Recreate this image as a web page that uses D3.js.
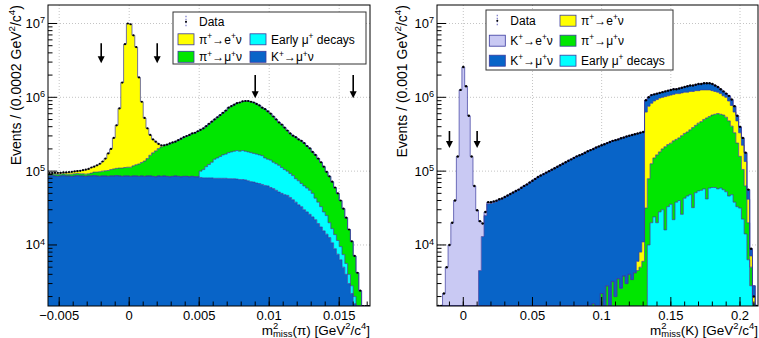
<!DOCTYPE html>
<html lang="en">
<head>
<meta charset="utf-8">
<title>missing mass squared</title>
<script src="https://d3js.org/d3.v7.min.js"></script>
<style>
body { margin: 0; background: #fff; }
svg { display: block; font-family: "Liberation Sans", Arial, sans-serif; }
</style>
</head>
<body>
<script>
// ---------- data : events per bin, in thousands ----------
// left : m2miss(pi), bins of 0.0002 starting at -0.0058
const leftLo = -0.0058, leftBin = 0.0002;
const leftKmu = [
  86,87,86,85,86,87,86,86,85,86, 87,86,86,85,86,86,87,86,85,86,
  86,85,86,86,87,86,85,86,86,85, 86,86,85,86,85,86,86,85,84,86,
  85,86,85,84,85,86,85,84,85,85, 84,85,84,84,
  82,81,81,81,81,80,80,80,80,80, 79,79,79,78,77,77,76,74,72,71,
  69,68,66,64,63,60,58,55,52,50, 48,47,44,41,38,35,33,30,28,26,
  24,22,19.5,17.5,15.5,14,12.6,10.7,8.9,7.5, 6.3,5.0,4.0,3.0,2.2,1.6,1.0,0.6,0.3,0.1,
  0];
const leftEarly = [
  0,0,0,0,0,0,0,0,0,0, 0,0,0,0,0,0,0,0,0,0, 0,0,0,0,0,0,0,0,0,0,
  0,0,0,0,0,0,0,0,0,0, 0,0,0,0,0,0,0,0,0,0, 0,0,0,0,
  18,24,34,42,51,65,71,78,86,90, 99,103,107,112,109,113,110,108,106,103,
  101,98,96,87,82,81,74,71,68,62, 57,53,49,46,41,39,35,33,31,29,
  26,21,18.5,15.5,12.5,11,7.4,5.9,4.9,4.0, 3.2,2.4,1.6,1.0,0.6,0.4,0.2,0.1,0,0,
  0];
const leftPimu = [
  5,5,5,5,5,5,5,5,6,6, 6,6,6,6,6,8,10,11,13,14,
  15,17,19,21,22,24,25,26,27,28, 32,36,40,45,52,62,78,92,104,116,
  128,137,143,151,159,165,177,189,202,213, 224,239,246,262,
  263,275,292,314,336,356,386,417,451,491, 546,577,608,642,665,691,705,709,693,677,
  643,610,562,541,501,462,418,375,337,315, 284,255,231,215,209,195,189,177,160,149,
  132,123,110,99,87,73,65,55,46,38.5, 30.5,23.6,17.8,12.2,8.4,5.1,3.0,1.7,1.0,0.6,
  0.2];
const leftPie = [
  3,3,3,4,4,4,5,5,6,7, 8,9,11,13,15,18,19,23,27,35,
  47,71,95,175,309,598,1474,5136,9887,9658, 6800,4664,1736,740,387,232,145,91,61,32,
  10,2,0.5,0,0,0,0,0,0,0, 0,0,0,0,0,0,0,0,0,0, 0,0,0,0,0,0,0,0,0,0,
  0,0,0,0,0,0,0,0,0,0, 0,0,0,0,0,0,0,0,0,0, 0,0,0,0,0,0,0,0,0,0,
  0,0,0,0,0,0,0,0,0,0, 0,0,0,0,0];
const leftData = [
  94,94,95,95,95,96,96,97,98,99, 100,101,103,105,107,112,115,120,126,135,
  148,174,200,282,417,708,1585,5248,10000,9772, 6918,4786,1862,871,525,380,309,269,251,234,
  224,224,229,237,245,251,263,275,288,299, 309,324,331,347,363,380,407,437,468,501,
  537,575,617,661,724,759,794,832,851,881, 891,891,871,851,813,776,724,692,646,603,
  550,501,457,427,389,355,324,302,288,269, 257,240,219,204,182,166,148,132,115,98,
  85,72,60,50,40,31,23.4,16.2,11.2,7.1, 4.2,2.4,1.3,0.6,0.2];

// right : m2miss(K), bins of 0.002 starting at -0.019
const rightLo = -0.019, rightBin = 0.002;
const rightKenu = [
  0.5,1.0,2.2,5,10,20,40,158,1260,2570, 1410,562,158,62.5,28,16.5,6.5,3,2,1.5,
  1.2,1.0,0.8,0.6,0.5,0.4,0.3,0.3,0.2,0.2, 0,0,0,0,0,0,0,0,0,0,
  0,0,0,0,0,0,0,0,0,0, 0,0,0,0,0,0,0,0,0,0, 0,0,0,0,0,0,0,0,0,0,
  0,0,0,0,0,0,0,0,0,0, 0,0,0,0,0,0,0,0,0,0, 0,0,0,0,0,0,0,0,0,0,
  0,0,0,0,0,0,0,0,0,0, 0,0,0,0,0,0];
const rightKmu = [
  0,0,0,0,0,0,0,0,0,0, 0,0,0,0.5,1.5,4.5,13,25,36,
  36.5,37.7,38.8,40.9,42.1,44.2,46.4,48.7,51,53.5, 56,59.5,63,66,70,74,78.5,83,87,91,
  95.5,100,104.7,109.6,114.8,120.2,125.9,131.8,138,144.5, 151.4,158.5,164,169.8,177.8,186.2,192,198,208,215,
  222,231,237,247,254,261,266,276,281,292, 298,306,312,317,323,328,
  281,241,240,205,189,171,175,179,183,187, 192,166,196,201,205,238,243,243,249,284,
  255,290,290,290,284,243,205,166,155,122, 156,157,128,83,67,58,43,14.5,1.8,0.8,0.2];
const rightPie = [
  0,0,0,0,0,0,0,0,0,0, 0,0,0,0,0,0,0,0,0,0, 0,0,0,0,0,0,0,0,0,0,
  0,0,0,0,0,0,0,0,0,0, 0,0,0,0,0,0,0,0,0,0, 0,0,0,0,0,0,0,0,0,0,
  0,0,0,0,0,0,0,0,0,0, 0,0,1.5,3,5,
  599,680,706,740,767,795,800,809,818,832, 839,853,840,846,851,836,839,813,813,783,
  791,758,734,709,655,613,572,533,472,463, 412,369,300,239,172,119,72,21.7,2.1,0.4,0.2];
const rightPimu = [
  0,0,0,0,0,0,0,0,0,0, 0,0,0,0,0,0,0,0,0,0, 0,0,0,0,0,0,0,0,0,0,
  0,0,0,0,0,0,0,0,0,0, 0,0,0,0,0,0,0,0,0,0, 0,0,0,0,0,
  0.8,1.6,0.7,1.2,2.2,1.0,2.8,1.5,3.2,2.0, 3.5,2.6,3.8,3.0,4.0,3.4,4.2,4.5,5.0,6.0,
  31.1,69,106,127,146,154,170,198,196,204, 235,231,242,276,281,293,315,357,366,393,
  413,444,483,491,515,529,545,530,519,485, 433,359,293,207,127,83,49,13.7,2.2,0.8,0.3];
const rightEarly = [
  0,0,0,0,0,0,0,0,0,0, 0,0,0,0,0,0,0,0,0,0, 0,0,0,0,0,0,0,0,0,0,
  0,0,0,0,0,0,0,0,0,0, 0,0,0,0,0,0,0,0,0,0, 0,0,0,0,0,0,0,0,0,0,
  0,0,0,0,0,0,0,0,0,0, 0,0,0,0,0,
  0.5,10,20,24,20,28,30,16,33,35.5, 22,38,40,26,43,46,48,32,51,54,
  55,57.5,42,59,60,60,57.5,59,56,52.5, 46,47.9,38,33,31.6,22.4,14.1,6.3,2.8,0.8,0.2];
const rightData = [
  0.5,1.0,2.2,5,10,20,40,158,1260,2570, 1410,562,158,63,29.5,21,19.5,28,38,38,
  38.9,39.8,41.7,42.7,44.7,46.8,49.0,51.3,53.7,56.2, 59.6,63.1,66.1,70.0,74.1,78.5,83.2,87.1,91.2,95.5,
  100,104.7,109.6,114.8,120.2,125.9,131.8,138,144.5,151.4, 158.5,164.1,169.8,177.8,186.2,192.8,199.5,208.9,216.3,223.9,
  231.7,239.9,248.3,257,263,269.2,278.6,285.1,295.1,302, 309,316.2,323.6,331.1,338.8,
  912,1000,1072,1096,1122,1148,1175,1202,1230,1259, 1288,1288,1318,1349,1380,1413,1445,1445,1479,1514,
  1514,1549,1549,1549,1514,1445,1380,1288,1202,1122, 1047,933,759,562,398,282,178,56.2,8.9,2.0,0.6];

const yTicks = [1e4, 1e5, 1e6, 1e7];
const leftXTicks = [-0.005, 0, 0.005, 0.01, 0.015];
const rightXTicks = [0, 0.05, 0.1, 0.15, 0.2];
// cut positions marked by arrows: x, arrow top and tip (events)
const leftArrows = [[-0.002, 5.4e6, 2.9e6], [0.002, 5.4e6, 2.9e6], [0.009, 2.0e6, 0.97e6], [0.016, 2.0e6, 0.97e6]];
const rightArrows = [[-0.01, 3.5e5, 2.05e5], [0.01, 3.5e5, 2.05e5]];

// ---------- styles ----------
const col = {
  kmu: "#0864c8", early: "#00ffff", pimu: "#00e600", pie: "#ffff00", kenu: "#c9c9f3"
};
const edge = "#3a3a9e";

const W = 759, H = 338;
const yDomain = [1490, 1.78e7];
const svg = d3.select("body").append("svg").attr("width", W).attr("height", H);

// text with ^{sup} and _{sub}; a sub right after a sup is stacked under it
function rich(text, str, size) {
  const parts = str.split(/(\^\{[^}]*\}|_\{[^}]*\})/).filter(s => s.length);
  let shift = 0, lastSup = null;
  parts.forEach(tok => {
    const t = text.append("tspan");
    if (tok[0] === "^") {
      t.text(tok.slice(2, -1)).attr("font-size", size * 0.7).attr("dy", -size * 0.38 - shift);
      shift = -size * 0.38;
      lastSup = t;
    } else if (tok[0] === "_") {
      t.text(tok.slice(2, -1)).attr("font-size", size * 0.7).attr("dy", size * 0.2 - shift);
      if (lastSup) t.attr("dx", -lastSup.node().getComputedTextLength());
      shift = size * 0.2;
      lastSup = null;
    } else {
      t.text(tok).attr("dy", -shift);
      shift = 0;
      lastSup = null;
    }
  });
}

function panel(cfg) {
  const x = d3.scaleLinear().domain(cfg.xDomain).range([cfg.x0, cfg.x1]);
  const y = d3.scaleLog().domain(yDomain).range([cfg.y1, cfg.y0]).clamp(true);
  const g = svg.append("g");

  g.append("clipPath").attr("id", "clip" + cfg.id)
    .append("rect").attr("x", cfg.x0).attr("y", cfg.y0)
    .attr("width", cfg.x1 - cfg.x0).attr("height", cfg.y1 - cfg.y0);

  // grid
  const grid = g.append("g").attr("stroke", "#c4c4c4").attr("stroke-dasharray", "1,2");
  grid.selectAll(".gx").data(cfg.xTicks).join("line")
    .attr("x1", d => x(d)).attr("x2", d => x(d)).attr("y1", cfg.y0).attr("y2", cfg.y1);
  grid.selectAll(".gy").data(yTicks).join("line")
    .attr("y1", d => y(d)).attr("y2", d => y(d)).attr("x1", cfg.x0).attr("x2", cfg.x1);

  // histogram table
  const rows = cfg.series[0].values.map((_, i) => {
    const r = { x0: cfg.lo + i * cfg.bin, x1: cfg.lo + (i + 1) * cfg.bin };
    cfg.series.forEach(s => { r[s.key] = s.values[i] * 1e3; });
    r.data = cfg.data[i] * 1e3;
    return r;
  });
  const stacked = d3.stack().keys(cfg.series.map(s => s.key))(rows);

  const plot = g.append("g").attr("clip-path", "url(#clip" + cfg.id + ")");
  const steps = layer => layer.flatMap((d, i) => [
    { x: rows[i].x0, lo: d[0], hi: d[1] }, { x: rows[i].x1, lo: d[0], hi: d[1] }]);
  const area = d3.area().x(d => x(d.x))
    .y0(d => y(Math.max(d.lo, 1))).y1(d => y(Math.max(d.hi, 1)));
  const line = d3.line().x(d => x(d.x)).y(d => y(Math.max(d.hi, 1)));

  stacked.forEach(layer => {
    plot.append("path").datum(steps(layer)).attr("d", area)
      .attr("fill", col[layer.key]).attr("stroke", "none");
  });
  stacked.forEach(layer => {
    plot.append("path").datum(steps(layer)).attr("d", line)
      .attr("fill", "none").attr("stroke", edge).attr("stroke-width", 0.7);
  });

  // data points
  plot.selectAll(".pt").data(rows.filter(r => r.data > 0)).join("circle")
    .attr("cx", d => x((d.x0 + d.x1) / 2)).attr("cy", d => y(d.data))
    .attr("r", cfg.dotR).attr("fill", "#000");

  // arrows
  cfg.arrows.forEach(([ax, top, tip]) => {
    const px = x(ax), yt = y(top), yp = y(tip);
    g.append("line").attr("x1", px).attr("x2", px).attr("y1", yt).attr("y2", yp - 6)
      .attr("stroke", "#000").attr("stroke-width", 1.6);
    g.append("path").attr("d", `M${px - 3.5},${yp - 7}L${px + 3.5},${yp - 7}L${px},${yp}Z`)
      .attr("fill", "#000");
  });

  // frame
  g.append("rect").attr("x", cfg.x0).attr("y", cfg.y0)
    .attr("width", cfg.x1 - cfg.x0).attr("height", cfg.y1 - cfg.y0)
    .attr("fill", "none").attr("stroke", "#000").attr("stroke-width", 1);

  // ticks (inside the frame)
  const tk = g.append("g").attr("stroke", "#000").attr("stroke-width", 1);
  const yMinor = [];
  [3, 4, 5, 6, 7].forEach(e => d3.range(2, 10).forEach(m => {
    const v = m * Math.pow(10, e);
    if (v > yDomain[0] && v < yDomain[1]) yMinor.push(v);
  }));
  tk.selectAll(".ym").data(yMinor).join("line")
    .attr("x1", cfg.x0).attr("x2", cfg.x0 + 4.5).attr("y1", d => y(d)).attr("y2", d => y(d));
  tk.selectAll(".yM").data(yTicks).join("line")
    .attr("x1", cfg.x0).attr("x2", cfg.x0 + 9).attr("y1", d => y(d)).attr("y2", d => y(d));
  const xMinor = d3.range(Math.ceil(cfg.xDomain[0] / cfg.minorStep - 1e-6), Math.floor(cfg.xDomain[1] / cfg.minorStep + 1e-6) + 1)
    .map(k => k * cfg.minorStep);
  tk.selectAll(".xm").data(xMinor).join("line")
    .attr("x1", d => x(d)).attr("x2", d => x(d)).attr("y1", cfg.y1).attr("y2", cfg.y1 - 4.5);
  tk.selectAll(".xM").data(cfg.xTicks).join("line")
    .attr("x1", d => x(d)).attr("x2", d => x(d)).attr("y1", cfg.y1).attr("y2", cfg.y1 - 9);

  // tick labels
  const fmt = d3.format("~g");
  g.selectAll(".xl").data(cfg.xTicks).join("text")
    .attr("x", d => x(d)).attr("y", cfg.y1 + 13.5).attr("text-anchor", "middle")
    .attr("font-size", 13).text(d => fmt(d));
  yTicks.forEach(v => {
    const t = g.append("text").attr("x", cfg.x0 - 3).attr("y", y(v) + 4.5)
      .attr("text-anchor", "end").attr("font-size", 13);
    rich(t, "10^{" + Math.round(Math.log10(v)) + "}", 13);
  });

  // axis titles
  const xt = g.append("text").attr("x", cfg.x1).attr("y", cfg.y1 + 28.5)
    .attr("text-anchor", "end").attr("font-size", 13.5);
  rich(xt, cfg.xTitle, 13.5);
  const yt = g.append("text").attr("text-anchor", "end").attr("font-size", 14)
    .attr("transform", `translate(${cfg.yTitleX},${cfg.y0}) rotate(-90)`);
  rich(yt, cfg.yTitle, 14);

  // legend
  const L = cfg.legend;
  const lg = g.append("g");
  lg.append("rect").attr("x", L.x).attr("y", L.y).attr("width", L.w).attr("height", L.h)
    .attr("fill", "#fff").attr("stroke", "#333").attr("stroke-width", 1);
  L.items.forEach(it => {
    const cx = L.x + L.cols[it.c], cy = L.y + L.rows[it.r];
    if (it.key === "data") {
      lg.append("line").attr("x1", cx + 8).attr("x2", cx + 8).attr("y1", cy - 6).attr("y2", cy + 6)
        .attr("stroke", "#8080cc").attr("stroke-width", 1.3).attr("stroke-dasharray", "1.5,1.5");
      lg.append("circle").attr("cx", cx + 8).attr("cy", cy).attr("r", 1).attr("fill", "#000");
    } else {
      lg.append("rect").attr("x", cx).attr("y", cy - 5.5).attr("width", 16).attr("height", 11)
        .attr("fill", col[it.key]).attr("stroke", edge).attr("stroke-width", 0.8);
    }
    const t = lg.append("text").attr("x", cx + 21).attr("y", cy + 4.3).attr("font-size", 12);
    rich(t, it.label, 12);
  });
}

panel({
  id: "L", x0: 48, x1: 370, y0: 5, y1: 306,
  xDomain: [-0.0058, 0.0172], lo: leftLo, bin: leftBin, minorStep: 0.001,
  xTicks: leftXTicks, dotR: 1.1,
  series: [
    { key: "kmu", values: leftKmu },
    { key: "early", values: leftEarly },
    { key: "pimu", values: leftPimu },
    { key: "pie", values: leftPie }
  ],
  data: leftData,
  arrows: leftArrows,
  xTitle: "m^{2}_{miss}(π) [GeV^{2}/c^{4}]",
  yTitle: "Events / (0.0002 GeV^{2}/c^{4})",
  yTitleX: 20.5,
  legend: {
    x: 173, y: 12, w: 193, h: 52,
    cols: [5, 77], rows: [9.7, 27.3, 44.8],
    items: [
      { key: "data", c: 0, r: 0, label: "Data" },
      { key: "pie", c: 0, r: 1, label: "π^{+}→e^{+}ν" },
      { key: "early", c: 1, r: 1, label: "Early μ^{+} decays" },
      { key: "pimu", c: 0, r: 2, label: "π^{+}→μ^{+}ν" },
      { key: "kmu", c: 1, r: 2, label: "K^{+}→μ^{+}ν" }
    ]
  }
});

panel({
  id: "R", x0: 437, x1: 758, y0: 5, y1: 306,
  xDomain: [-0.019, 0.213], lo: rightLo, bin: rightBin, minorStep: 0.01,
  xTicks: rightXTicks, dotR: 1.2,
  series: [
    { key: "early", values: rightEarly },
    { key: "pimu", values: rightPimu },
    { key: "pie", values: rightPie },
    { key: "kmu", values: rightKmu },
    { key: "kenu", values: rightKenu }
  ],
  data: rightData,
  arrows: rightArrows,
  xTitle: "m^{2}_{miss}(K) [GeV^{2}/c^{4}]",
  yTitle: "Events / (0.001 GeV^{2}/c^{4})",
  yTitleX: 406.5,
  legend: {
    x: 486, y: 10, w: 187, h: 60,
    cols: [3.3, 74], rows: [10.7, 30.7, 50.7],
    items: [
      { key: "data", c: 0, r: 0, label: "Data" },
      { key: "pie", c: 1, r: 0, label: "π^{+}→e^{+}ν" },
      { key: "kenu", c: 0, r: 1, label: "K^{+}→e^{+}ν" },
      { key: "pimu", c: 1, r: 1, label: "π^{+}→μ^{+}ν" },
      { key: "kmu", c: 0, r: 2, label: "K^{+}→μ^{+}ν" },
      { key: "early", c: 1, r: 2, label: "Early μ^{+} decays" }
    ]
  }
});
</script>
</body>
</html>
